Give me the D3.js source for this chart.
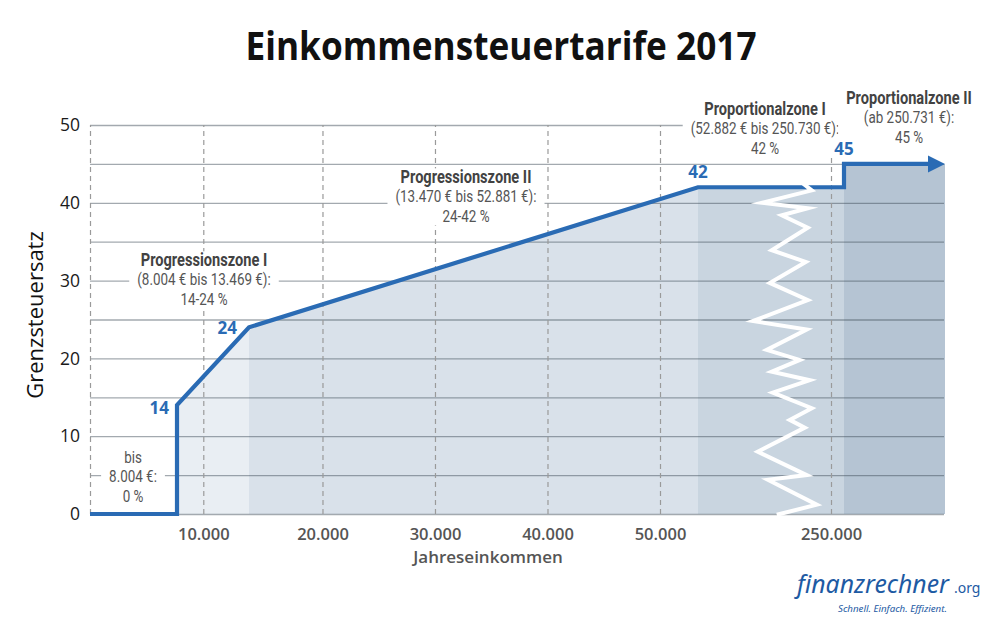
<!DOCTYPE html>
<html><head><meta charset="utf-8">
<script src="https://cdn.jsdelivr.net/npm/d3@7"></script>
<style>body{margin:0;background:#fff}svg{display:block}</style>
</head><body><svg id="c" width="1000" height="631"></svg>
<script>
// ---------- data ----------
const chartTitle = "Einkommensteuertarife 2017";
const yTitle = "Grenzsteuersatz";
const xTitle = "Jahreseinkommen";
const incomes = [0, 8004, 8004, 13469, 52881, 250731, 250731, 280000];
const rates   = [0, 0, 14, 24, 42, 42, 45, 45];
const zoneBounds = [0, 8004, 13469, 52881, 250731, 280000];
const xTickValues = [10000, 20000, 30000, 40000, 50000, 250000];
const xGridValues = [0, 10000, 20000, 30000, 40000, 50000, 250000];
const yTickValues = [0, 10, 20, 30, 40, 50];
const yGridValues = [0, 5, 10, 15, 20, 25, 30, 35, 40, 45, 50];
const rateLabelIncomes = [8004, 13469, 52881, 250731];
const rateLabelValues = [14, 24, 42, 45];
const zoneTitles = ["", "Progressionszone I", "Progressionszone II", "Proportionalzone I", "Proportionalzone II"];
const zoneLines = [
  ["bis", "8.004 €:", "0 %"],
  ["(8.004 € bis 13.469 €):", "14-24 %"],
  ["(13.470 € bis 52.881 €):", "24-42 %"],
  ["(52.882 € bis 250.730 €):", "42 %"],
  ["(ab 250.731 €):", "45 %"]
];
// decoration: axis break zig-zag (pixel offset, rate)
const zigDx   = [10, 22, -28, 18, -8, 18, -18, 16, -20, 18, -37, 17, -23, 10, -18, 20, -17, 22, 0, 15, -32, 17, -22, 27, -13];
const zigRate = [42.8, 41.6, 40.0, 39.3, 38.4, 36.8, 33.9, 32.4, 29.7, 27.5, 24.8, 23.7, 21.1, 19.8, 18.3, 17.2, 15.6, 13.6, 12.1, 11.1, 8.0, 5.0, 4.4, 1.2, -0.1];

// ---------- layout ----------
const pL = 90, pR = 945, pT = 125, pB = 514;
const zoneFill = [null, "#e9eef3", "#d9e1ea", "#c9d5e0", "#b5c4d3"];
const blue = "#2a6bb4";
const annotFont = "'Roboto','Noto Sans',sans-serif";
const mainFont = "'Open Sans','Noto Sans',sans-serif";
const logoFont = "'Noto Sans','Open Sans',sans-serif";
const condense = 0.79;
// annotation anchors: [center x, first baseline]
const annotPos = [[133, 463], [204, 266], [466, 183], [765, 115], [909, 104]];

const svg = d3.select("#c");
const fmt = d3.formatLocale({decimal: ",", thousands: ".", grouping: [3], currency: ["", "€"]}).format(",.0f");

const x = d3.scaleLinear()
  .domain([0, 8004, 13469, 50000, 52881, 250000, 250731, 280000])
  .range([pL, 177, 249, 660, 698, 831, 844, pR]);
const y = d3.scaleLinear().domain([0, 50]).range([pB, pT]);

const pts = incomes.map((d, i) => [d, rates[i]]);

// title
svg.append("text").attr("x", 501).attr("y", 60).attr("text-anchor", "middle")
  .attr("font-family", mainFont).attr("font-weight", 700).attr("font-size", 39)
  .attr("textLength", 511).attr("lengthAdjust", "spacingAndGlyphs")
  .attr("fill", "#111").text(chartTitle);

// zone fills
const area = d3.area().x(d => x(d[0])).y0(y(0)).y1(d => y(d[1]));
for (let z = 1; z < zoneBounds.length - 1; z++) {
  const a = zoneBounds[z], b = zoneBounds[z + 1];
  let seg = pts.filter(p => p[0] >= a && p[0] <= b);
  const startPts = seg.filter(p => p[0] === a);
  const endPts = seg.filter(p => p[0] === b);
  seg = seg.filter(p => p[0] !== a && p[0] !== b);
  seg.unshift([a, d3.max(startPts, p => p[1])]);
  if (z < zoneBounds.length - 2) seg.push([b, d3.min(endPts, p => p[1])]);
  else seg.push([b, d3.max(endPts, p => p[1])]);
  svg.append("path").datum(seg).attr("d", area).attr("fill", zoneFill[z]);
}

// horizontal grid
const yGrid = d3.axisLeft(y).tickValues(yGridValues).tickSize(-(pR - 1 - pL)).tickFormat("");
const gy = svg.append("g").attr("transform", `translate(${pL},0)`).call(yGrid);
gy.select(".domain").remove();
gy.selectAll("line").attr("stroke", "#3f4b58").attr("stroke-opacity", 0.48).attr("stroke-width", 1.3);

// vertical dashed grid
const xGrid = d3.axisBottom(x).tickValues(xGridValues).tickSize(-(pB - pT)).tickFormat("");
const gx = svg.append("g").attr("transform", `translate(0,${pB})`).call(xGrid);
gx.select(".domain").remove();
gx.selectAll("line").attr("stroke", "#9a9a9a").attr("stroke-width", 1.2).attr("stroke-dasharray", "5,4");

// y axis labels
const yAxis = d3.axisLeft(y).tickValues(yTickValues).tickSize(0).tickPadding(10);
const ya = svg.append("g").attr("transform", `translate(${pL},0)`).call(yAxis);
ya.select(".domain").remove();
ya.selectAll("text").attr("font-family", mainFont).attr("font-size", 17.5).attr("fill", "#1a1a1a");

// x axis labels
const xAxis = d3.axisBottom(x).tickValues(xTickValues).tickFormat(fmt).tickSize(0).tickPadding(14);
const xa = svg.append("g").attr("transform", `translate(0,${pB})`).call(xAxis);
xa.select(".domain").remove();
xa.selectAll("text").attr("font-family", mainFont).attr("font-size", 16.5).attr("font-weight", 600).attr("fill", "#555");

// axis titles
svg.append("text").attr("transform", "translate(43,315) rotate(-90)").attr("text-anchor", "middle")
  .attr("font-family", mainFont).attr("font-size", 22).attr("fill", "#111").text(yTitle);
svg.append("text").attr("x", 488).attr("y", 563).attr("text-anchor", "middle")
  .attr("font-family", mainFont).attr("font-size", 17).attr("font-weight", 600).attr("fill", "#555").text(xTitle);

// tariff line (ends before arrow head)
const endX = x(incomes[incomes.length - 1]);
const endY = y(rates[rates.length - 1]);
const line = d3.line().x(d => x(d[0])).y(d => y(d[1]));
const linePts = pts.map(p => [p[0], p[1]]);
linePts[linePts.length - 1] = [x.invert(endX - 14), linePts[linePts.length - 1][1]];
svg.append("path").datum(linePts).attr("d", line).attr("fill", "none")
  .attr("stroke", blue).attr("stroke-width", 4.2).attr("stroke-linejoin", "miter");
svg.append("path").attr("d", `M${endX},${endY} L${endX - 17},${endY - 8.5} L${endX - 17},${endY + 8.5} Z`).attr("fill", blue);

// zig-zag break
const zigCx = x(52881) + 0.69 * (x(250000) - x(52881));
svg.append("path").datum(zigDx.map((d, i) => [zigCx + d, y(zigRate[i])]))
  .attr("d", d3.line()).attr("fill", "none").attr("stroke", "#fff").attr("stroke-width", 4)
  .attr("stroke-linejoin", "miter").attr("stroke-miterlimit", 10);

// annotations (horizontally condensed)
const lh = 19.5;
zoneLines.forEach((lines, z) => {
  const [cx, by] = annotPos[z];
  const g = svg.append("g").attr("transform", `translate(${cx},0) scale(${condense},1)`);
  const bg = g.append("rect").attr("fill", "#fff");
  let row = 0;
  if (zoneTitles[z]) {
    g.append("text").attr("x", 0).attr("y", by).attr("text-anchor", "middle")
      .attr("font-family", annotFont).attr("font-weight", 700).attr("font-size", 18.5)
      .attr("fill", "#424242").text(zoneTitles[z]);
    row = 1;
  }
  lines.forEach((t, i) => {
    g.append("text").attr("x", 0).attr("y", by + (row + i) * lh).attr("text-anchor", "middle")
      .attr("font-family", annotFont).attr("font-size", 17).attr("fill", "#555").text(t);
  });
  const bb = g.node().getBBox();
  const pad = 8 / condense;
  bg.attr("x", bb.x - pad).attr("y", bb.y + 2).attr("width", bb.width + 2 * pad).attr("height", bb.height - 3);
});

// rate labels (on top)
const labelDx = [-8, -12, 0, 0], labelDy = [9, 7, -9, -9], labelAnchor = ["end", "end", "middle", "middle"];
rateLabelValues.forEach((v, i) => {
  svg.append("text").attr("x", x(rateLabelIncomes[i]) + labelDx[i]).attr("y", y(v) + labelDy[i])
    .attr("text-anchor", labelAnchor[i]).attr("font-family", mainFont).attr("font-weight", 700)
    .attr("font-size", 17).attr("fill", blue).text(v);
});

// logo
function fitWidth(sel, target) {
  const w = sel.node().getComputedTextLength();
  const fs = parseFloat(sel.attr("font-size"));
  sel.attr("font-size", fs * target / w);
}
const logo = svg.append("g");
logo.append("text").attr("x", 797).attr("y", 593).attr("font-family", logoFont)
  .attr("font-size", 27).attr("font-style", "italic").attr("fill", "#1d5aa3")
  .text("finanzrechner").call(fitWidth, 152);
logo.append("text").attr("x", 954).attr("y", 593).attr("font-family", logoFont)
  .attr("font-size", 14).attr("fill", "#1d5aa3").text(".org");
logo.append("text").attr("x", 838).attr("y", 612).attr("font-family", logoFont)
  .attr("font-size", 11.5).attr("font-style", "italic").attr("fill", "#1d5aa3")
  .text("Schnell. Einfach. Effizient.").call(fitWidth, 109);
</script></body></html>
